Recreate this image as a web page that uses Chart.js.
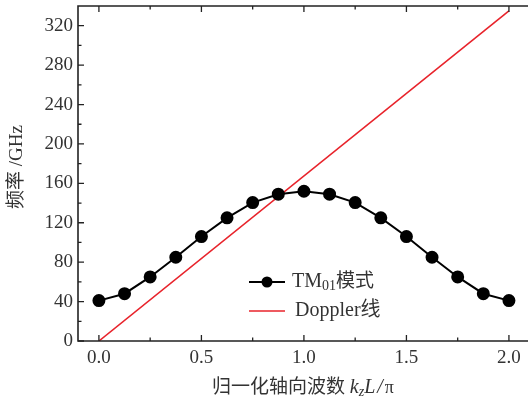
<!DOCTYPE HTML>
<html>
<head>
    <meta charset="utf-8">
    <script src="https://cdn.jsdelivr.net/npm/chart.js"></script>
    <style>
        html, body { margin: 0; padding: 0; background: #fff; overflow: hidden; }
        #box { width: 528px; height: 405px; }
    </style>
</head>
<body>

<div id="box"><canvas id="myChart"></canvas></div>

<script type="text/javascript">
    // data
    const kz = [0, 0.125, 0.25, 0.375, 0.5, 0.625, 0.75, 0.875, 1.0, 1.125, 1.25, 1.375, 1.5, 1.625, 1.75, 1.875, 2.0];
    const tm01 = [41, 48, 65, 85, 106, 125, 140.5, 149, 152, 149, 140.5, 125, 106, 85, 65, 48, 41];
    const dopplerX = [0, 2.0];
    const dopplerY = [0, 335];

    const xTicks = [0, 0.5, 1.0, 1.5, 2.0];
    const xMinor = [0.25, 0.75, 1.25, 1.75];
    const yTicks = [0, 40, 80, 120, 160, 200, 240, 280, 320];
    const yMinor = [20, 60, 100, 140, 180, 220, 260, 300];

    const seriesLabels = ['TM01模式', 'Doppler线'];
    const xTitle = '归一化轴向波数 ';
    const yTitle = '频率 /GHz';

    const SERIF = '"Liberation Serif", "DejaVu Serif", "Noto Sans CJK SC", serif';
    const INK = '#222';

    const framePlugin = {
        id: 'frame',
        afterDraw(chart) {
            const ctx = chart.ctx;
            const a = chart.chartArea;
            const xs = chart.scales.x, ys = chart.scales.y;
            ctx.save();
            // box: the right side falls off the picture in the original
            ctx.strokeStyle = INK;
            ctx.lineWidth = 1.6;
            ctx.beginPath();
            ctx.moveTo(a.right + 2, a.top);
            ctx.lineTo(a.left, a.top);
            ctx.lineTo(a.left, a.bottom);
            ctx.lineTo(a.right + 2, a.bottom);
            ctx.stroke();

            // inward ticks
            ctx.lineWidth = 1.3;
            ctx.beginPath();
            function xt(v, len) {
                const p = xs.getPixelForValue(v);
                ctx.moveTo(p, a.bottom); ctx.lineTo(p, a.bottom - len);
                ctx.moveTo(p, a.top); ctx.lineTo(p, a.top + len);
            }
            function yt(v, len) {
                const p = ys.getPixelForValue(v);
                ctx.moveTo(a.left, p); ctx.lineTo(a.left + len, p);
            }
            xTicks.forEach(v => xt(v, 6));
            xMinor.forEach(v => xt(v, 3.5));
            yTicks.forEach(v => yt(v, 6));
            yMinor.forEach(v => yt(v, 3.5));
            ctx.stroke();

            // legend
            const lx = 249, ly = 282, gap = 29;
            chart.data.datasets.forEach((ds, i) => {
                const y = ly + i * gap;
                ctx.strokeStyle = ds.borderColor;
                ctx.lineWidth = ds.borderWidth;
                ctx.beginPath();
                ctx.moveTo(lx, y); ctx.lineTo(lx + 36, y);
                ctx.stroke();
                if (ds.pointRadius > 0) {
                    ctx.fillStyle = ds.pointBackgroundColor;
                    ctx.beginPath();
                    ctx.arc(lx + 18, y, ds.pointRadius, 0, Math.PI * 2);
                    ctx.fill();
                }
                ctx.fillStyle = '#333';
                ctx.textBaseline = 'middle';
                ctx.textAlign = 'left';
                let tx = lx + 43;
                const m = ds.label.match(/^(TM)(\d+)(.*)$/);
                if (m) {
                    ctx.font = '20px ' + SERIF;
                    ctx.fillText(m[1], tx, y);
                    tx += ctx.measureText(m[1]).width;
                    ctx.font = '14px ' + SERIF;
                    ctx.fillText(m[2], tx, y + 4);
                    tx += ctx.measureText(m[2]).width;
                    ctx.font = '19px ' + SERIF;
                    ctx.fillText(m[3], tx, y);
                } else {
                    ctx.font = '20px ' + SERIF;
                    ctx.fillText(ds.label, tx + 3, y);
                }
            });

            // x title: 归一化轴向波数 k_z L/π
            const parts = [
                { t: xTitle, f: '19px ' + SERIF, dy: 0 },
                { t: 'k', f: 'italic 20px ' + SERIF, dy: 0 },
                { t: 'z', f: 'italic 14px ' + SERIF, dy: 4 },
                { t: 'L', f: 'italic 20px ' + SERIF, dy: 0 },
                { t: '/', f: 'italic 20px ' + SERIF, dy: 0 },
                { t: 'π', f: '18px ' + SERIF, dy: 0 }
            ];
            let total = 0;
            parts.forEach(p => { ctx.font = p.f; p.w = ctx.measureText(p.t).width + (p.t === 'L' || p.t === '/' ? 2 : 0); total += p.w; });
            let px = 303 - total / 2;
            const py = 388;
            ctx.fillStyle = '#333';
            ctx.textAlign = 'left';
            ctx.textBaseline = 'middle';
            parts.forEach(p => { ctx.font = p.f; ctx.fillText(p.t, px, py + p.dy); px += p.w; });

            // y title
            ctx.translate(17, 167);
            ctx.rotate(-Math.PI / 2);
            ctx.textAlign = 'center';
            ctx.font = '19px ' + SERIF;
            ctx.fillText(yTitle, 0, 0);
            ctx.restore();
        }
    };

    const data = {
        datasets: [{
            label: seriesLabels[0],
            data: kz.map((x, i) => ({ x: x, y: tm01[i] })),
            borderColor: '#000',
            backgroundColor: '#000',
            pointBackgroundColor: '#000',
            pointBorderColor: '#000',
            borderWidth: 2,
            pointRadius: 5.5,
            showLine: true
        }, {
            label: seriesLabels[1],
            data: dopplerX.map((x, i) => ({ x: x, y: dopplerY[i] })),
            borderColor: '#e8232b',
            backgroundColor: '#e8232b',
            pointBackgroundColor: '#e8232b',
            borderWidth: 1.6,
            pointRadius: 0,
            showLine: true
        }]
    };

    const config = {
        type: 'scatter',
        data: data,
        plugins: [framePlugin],
        options: {
            responsive: false,
            animation: false,
            devicePixelRatio: 1,
            layout: { autoPadding: false, padding: { top: 6, right: 0, left: 0, bottom: 0 } },
            plugins: { legend: { display: false }, tooltip: { enabled: false } },
            scales: {
                x: {
                    type: 'linear',
                    min: -0.102,
                    max: 2.093,
                    afterBuildTicks: s => { s.ticks = xTicks.map(v => ({ value: v })); },
                    afterFit: s => { s.height = 64; s.paddingLeft = 0; s.paddingRight = 0; },
                    grid: { display: false, drawTicks: false },
                    border: { display: false },
                    ticks: {
                        padding: 6,
                        color: '#333',
                        font: { family: SERIF, size: 19 },
                        callback: v => Number(v).toFixed(1)
                    }
                },
                y: {
                    min: 0,
                    max: 340,
                    afterBuildTicks: s => { s.ticks = yTicks.map(v => ({ value: v })); },
                    afterFit: s => { s.width = 78; s.paddingTop = 0; s.paddingBottom = 0; },
                    grid: { display: false, drawTicks: false },
                    border: { display: false },
                    ticks: {
                        padding: 5,
                        color: '#333',
                        font: { family: SERIF, size: 19 }
                    }
                }
            }
        }
    };

    const cv = document.getElementById('myChart');
    cv.width = 528;
    cv.height = 405;
    const myChart = new Chart(cv, config);
</script>
</body>
</html>
